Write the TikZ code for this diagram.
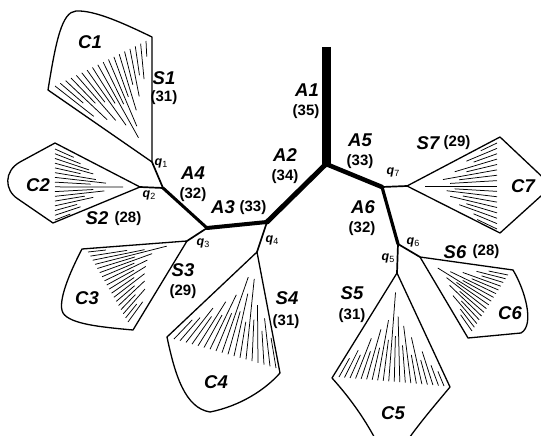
\documentclass[tikz,border=0pt]{standalone}
\usepackage{fontspec}
\newfontfamily\labfont{Liberation Sans}
\usetikzlibrary{calc}

% subscripted q labels at the branch points
\newcommand\qsub[1]{q\raisebox{-2.5pt}{\fontsize{9}{9}\selectfont\mdseries\upshape #1}}

% radial hatching of a fan: #1 apex, #2/#3 first and last outer ends,
% #4 list of fractions telling how far each stroke reaches toward the apex
\newcommand\fanhatch[4]{%
  \foreach \f [count=\i] in {#4} {\xdef\hcount{\i}}%
  \foreach \f [count=\i] in {#4} {%
    \pgfmathsetmacro\tpos{(\i-1)/(\hcount-1)}%
    \path ($(#2)!\tpos!(#3)$) coordinate (hout);
    \draw[hatchline] (hout) -- ($(hout)!\f!(#1)$);
  }}

\tikzset{
  lbl/.style={font=\fontsize{18.5}{19}\labfont\bfseries\itshape, inner sep=0pt},
  num/.style={font=\fontsize{15}{15}\labfont\bfseries, inner sep=0pt},
  qlbl/.style={font=\fontsize{12.5}{12.5}\labfont\bfseries\itshape, inner sep=0pt},
  fan/.style={line width=1.3pt, line join=round},
  hatchline/.style={line width=0.75pt},
  stub/.style={line width=1.7pt, line cap=round},
  axon/.style={line cap=round, line join=round}
}

\begin{document}
\begin{tikzpicture}[x=1pt, y=-1pt]
\useasboundingbox (0,0) rectangle (541,436);
\clip (0,0) rectangle (541,436);

% branch points
\coordinate (T0) at (326,47);
\coordinate (J0) at (326,164);
\coordinate (Q4) at (267,222);
\coordinate (Q3) at (207,228);
\coordinate (Q12) at (163,188);
\coordinate (Q7) at (382,187);
\coordinate (Q6) at (398,244);
% fan apices
\coordinate (P1) at (152,162);
\coordinate (P2) at (140,187);
\coordinate (P3) at (187,241);
\coordinate (P4) at (257,252);
\coordinate (P5) at (397,273);
\coordinate (P6) at (420,257);
\coordinate (P7) at (407,186);

% fan outlines
\draw[fan] (P1) -- (152,37) .. controls (125,24) and (95,10) .. (76,11)
  .. controls (62,12) and (56,40) .. (48,90) -- cycle;
\draw[fan] (P2) -- (55,143) -- (20,162) .. controls (4,171) and (4,190) .. (18,199)
  -- (53,223) -- cycle;
\draw[fan] (P3) -- (82,249) .. controls (70,272) and (57,302) .. (63,313)
  .. controls (70,324) and (100,327) .. (133,330) -- cycle;
\draw[fan] (P4) -- (167,337) .. controls (175,375) and (185,408) .. (210,412)
  .. controls (240,406) and (265,390) .. (280,373) -- cycle;
\draw[fan] (P5) -- (332,378) .. controls (350,398) and (366,420) .. (380,448)
  -- (398,452) -- (402,448) .. controls (420,422) and (436,404) .. (450,387) -- cycle;
\draw[fan] (P6) -- (513,270) .. controls (525,290) and (535,325) .. (521,333)
  -- (468,338) -- cycle;
\draw[fan] (P7) -- (500,137) -- (552,186) -- (500,233) -- cycle;

% fan hatching
\fanhatch{P1}{55,86}{146,41}{0.4,0.25,0.48,0.3,0.52,0.33,0.6,0.38,0.75,0.42,0.65,0.38,0.52,0.3,0.42,0.25,0.3,0.13}
\fanhatch{P2}{55,149}{55,220}{0.22,0.3,0.4,0.45,0.3,0.48,0.6,0.42,0.8,0.45,0.58,0.35,0.45,0.26,0.3,0.18}
\fanhatch{P3}{88,252}{128,322}{0.18,0.38,0.55,0.78,0.42,0.6,0.38,0.52,0.34,0.47,0.3,0.42,0.26,0.38,0.22,0.34,0.18,0.25}
\fanhatch{P4}{174,339}{276,368}{0.22,0.26,0.38,0.3,0.47,0.34,0.56,0.38,0.75,0.42,0.6,0.34,0.75,0.38,0.52,0.3,0.42,0.26}
\fanhatch{P5}{339,377}{444,386}{0.18,0.26,0.22,0.38,0.26,0.47,0.3,0.56,0.38,0.82,0.42,0.6,0.34,0.52,0.26,0.42,0.22,0.3,0.18,0.13}
\fanhatch{P6}{508,275}{472,331}{0.22,0.34,0.26,0.47,0.34,0.6,0.42,0.75,0.47,0.6,0.38,0.52,0.3,0.42,0.26,0.22}
\fanhatch{P7}{497,143}{497,229}{0.18,0.34,0.26,0.47,0.34,0.6,0.42,0.52,0.8,0.47,0.56,0.38,0.52,0.34,0.42,0.26,0.22}

% thin stems to the fans
\draw[stub] (Q12) -- (P1);
\draw[stub] (Q12) -- (P2);
\draw[stub] (Q3) -- (P3);
\draw[stub] (Q4) -- (P4);
\draw[stub] (Q6) -- (P5);
\draw[stub] (Q6) -- (P6);
\draw[stub] (Q7) -- (P7);

% main tree, thinning toward the periphery
\draw[line width=9pt] (T0) -- (J0);
\draw[axon, line width=5pt] (J0) -- (Q4);
\draw[axon, line width=4pt] (Q4) -- (Q3);
\draw[axon, line width=3pt] (Q3) -- (Q12);
\draw[axon, line width=4.5pt] (J0) -- (Q7);
\draw[axon, line width=3.2pt] (Q7) -- (Q6);

% segment labels
\node[lbl] (a1) at (307,90) {A1};  \node[num] (a1n) at (306,112) {(35)};
\node[lbl] (a2) at (285,155) {A2}; \node[num] (a2n) at (285,177) {(34)};
\node[lbl] (a3) at (223,207) {A3}; \node[num] (a3n) at (253,208) {(33)};
\node[lbl] (a4) at (193,173) {A4}; \node[num] (a4n) at (193,195) {(32)};
\node[lbl] (a5) at (360,140) {A5}; \node[num] (a5n) at (360,162) {(33)};
\node[lbl] (a6) at (363,207) {A6}; \node[num] (a6n) at (362,229) {(32)};

\node[lbl] (s1) at (164,78) {S1};  \node[num] (s1n) at (164,98) {(31)};
\node[lbl] (s2) at (97,218) {S2};  \node[num] (s2n) at (128,219) {(28)};
\node[lbl] (s3) at (183,270) {S3}; \node[num] (s3n) at (183,292) {(29)};
\node[lbl] (s4) at (287,298) {S4}; \node[num] (s4n) at (286,322) {(31)};
\node[lbl] (s5) at (352,293) {S5}; \node[num] (s5n) at (352,316) {(31)};
\node[lbl] (s6) at (455,252) {S6}; \node[num] (s6n) at (486,252) {(28)};
\node[lbl] (s7) at (428,143) {S7}; \node[num] (s7n) at (457,143) {(29)};

\node[lbl] (c1) at (90,42) {C1};
\node[lbl] (c2) at (38,185) {C2};
\node[lbl] (c3) at (87,298) {C3};
\node[lbl] (c4) at (216,382) {C4};
\node[lbl] (c5) at (393,413) {C5};
\node[lbl] (c6) at (510,313) {C6};
\node[lbl] (c7) at (523,186) {C7};

% branch point labels
\node[qlbl] (q1) at (161,163) {\qsub{1}};
\node[qlbl] (q2) at (149,195) {\qsub{2}};
\node[qlbl] (q3) at (203,243) {\qsub{3}};
\node[qlbl] (q4) at (272,240) {\qsub{4}};
\node[qlbl] (q5) at (388,258) {\qsub{5}};
\node[qlbl] (q6) at (413,242) {\qsub{6}};
\node[qlbl] (q7) at (393,172) {\qsub{7}};
\end{tikzpicture}
\end{document}
